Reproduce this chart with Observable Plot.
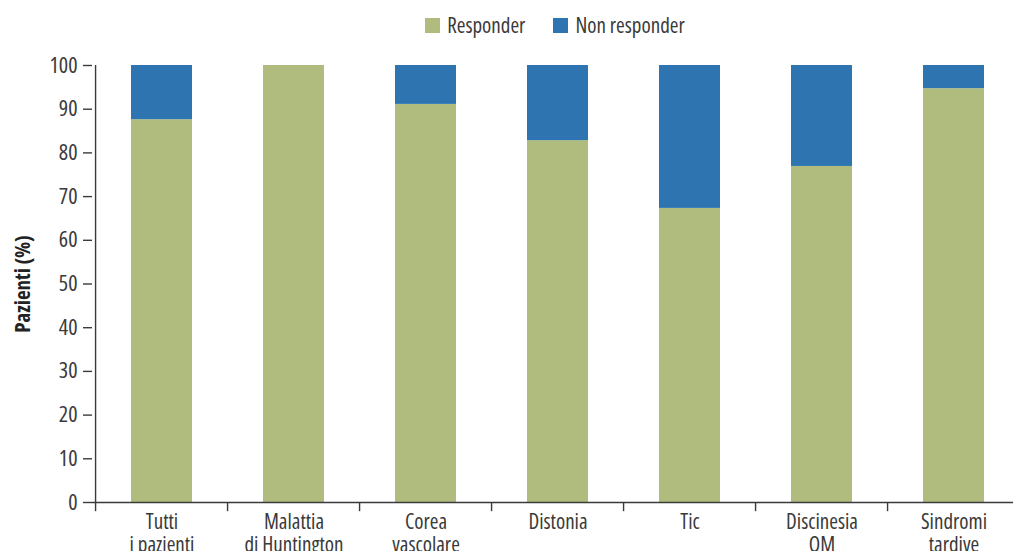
<!DOCTYPE html>
<html>
<head>
<meta charset="utf-8">
<script src="https://cdn.jsdelivr.net/npm/d3@7"></script>
<script src="https://cdn.jsdelivr.net/npm/@observablehq/plot@0.6"></script>
<style>
  html, body { margin: 0; padding: 0; background: #fff; overflow: hidden; }
  body { width: 1013px; height: 551px; position: relative; font-family: "Open Sans", sans-serif; font-stretch: 78%; font-weight: 370; color: #3a3a3a; }
  #legend { position: absolute; top: 11px; left: 90px; width: 930px; display: flex; justify-content: center; align-items: center; font-size: 21px; gap: 28px; z-index: 2; }
  .item { display: flex; align-items: center; gap: 7px; }
  .sw { width: 15px; height: 15px; display: inline-block; }
  svg text { font-stretch: 78%; }
</style>
</head>
<body>
<div id="legend"></div>
<div id="chart"></div>
<script>
// ---- data ----
const categories = ["Tutti\ni pazienti", "Malattia\ndi Huntington", "Corea\nvascolare", "Distonia", "Tic", "Discinesia\nOM", "Sindromi\ntardive"];
const responder    = [87.6, 100, 91.1, 82.8, 67.3, 76.9, 94.7];
const nonResponder = [12.4, 0, 8.9, 17.2, 32.7, 23.1, 5.3];
const seriesNames = ["Responder", "Non responder"];
const seriesColors = ["#afbc7e", "#2d74b1"];
const yTicks = [0, 10, 20, 30, 40, 50, 60, 70, 80, 90, 100];
const yLabel = "Pazienti (%)";

// ---- table ----
const rows = [];
categories.forEach((c, i) => {
  rows.push({cat: c, series: seriesNames[0], value: responder[i]});
  rows.push({cat: c, series: seriesNames[1], value: nonResponder[i]});
});

// ---- legend ----
const legend = document.getElementById("legend");
seriesNames.forEach((s, i) => {
  const it = document.createElement("div");
  it.className = "item";
  const sw = document.createElement("span");
  sw.className = "sw";
  sw.style.background = seriesColors[i];
  const t = document.createElement("span");
  t.textContent = s;
  it.appendChild(sw); it.appendChild(t);
  legend.appendChild(it);
});

const W = 1013, H = 551;
const x0 = 92, x1 = 1022;
const step = (x1 - x0) / categories.length;
const axisColor = "#3a3a3a";

const chart = Plot.plot({
  width: W,
  height: H,
  marginTop: 65,
  marginBottom: 49,
  marginLeft: x0,
  marginRight: 0,
  style: {fontFamily: "'Open Sans', sans-serif", fontSize: "21px", fontWeight: 370, color: "#3a3a3a", background: "transparent", overflow: "visible"},
  x: {domain: categories, range: [x0, x1], paddingInner: 0.54, paddingOuter: 0.27, align: 0.5, label: null},
  y: {domain: [0, 100], label: null},
  color: {domain: seriesNames, range: seriesColors},
  marks: [
    Plot.barY(rows, {x: "cat", y: "value", fill: "series", order: seriesNames}),
    Plot.ruleY([0], {stroke: axisColor, strokeWidth: 1.4}),
    Plot.ruleX([categories[0]], {dx: -step / 2, y1: 0, y2: 100, stroke: axisColor, strokeWidth: 1.4}),
    Plot.ruleX(categories, {x: d => d, dx: -step / 2, y1: 0, y2: -2.1, stroke: axisColor, strokeWidth: 1.4}),
    Plot.axisY({ticks: yTicks, tickSize: 9, tickPadding: 6, label: null, stroke: axisColor, strokeWidth: 1.4, fontSize: 22}),
    Plot.axisX({tickSize: 0, tickPadding: 10, label: null, lineHeight: 1.1, fontSize: 21}),
    Plot.text([yLabel], {frameAnchor: "left", dx: -69, rotate: -90, textAnchor: "middle", fontWeight: "bold", fontSize: 21, fill: "#222"})
  ]
});
document.getElementById("chart").appendChild(chart);
</script>
</body>
</html>
